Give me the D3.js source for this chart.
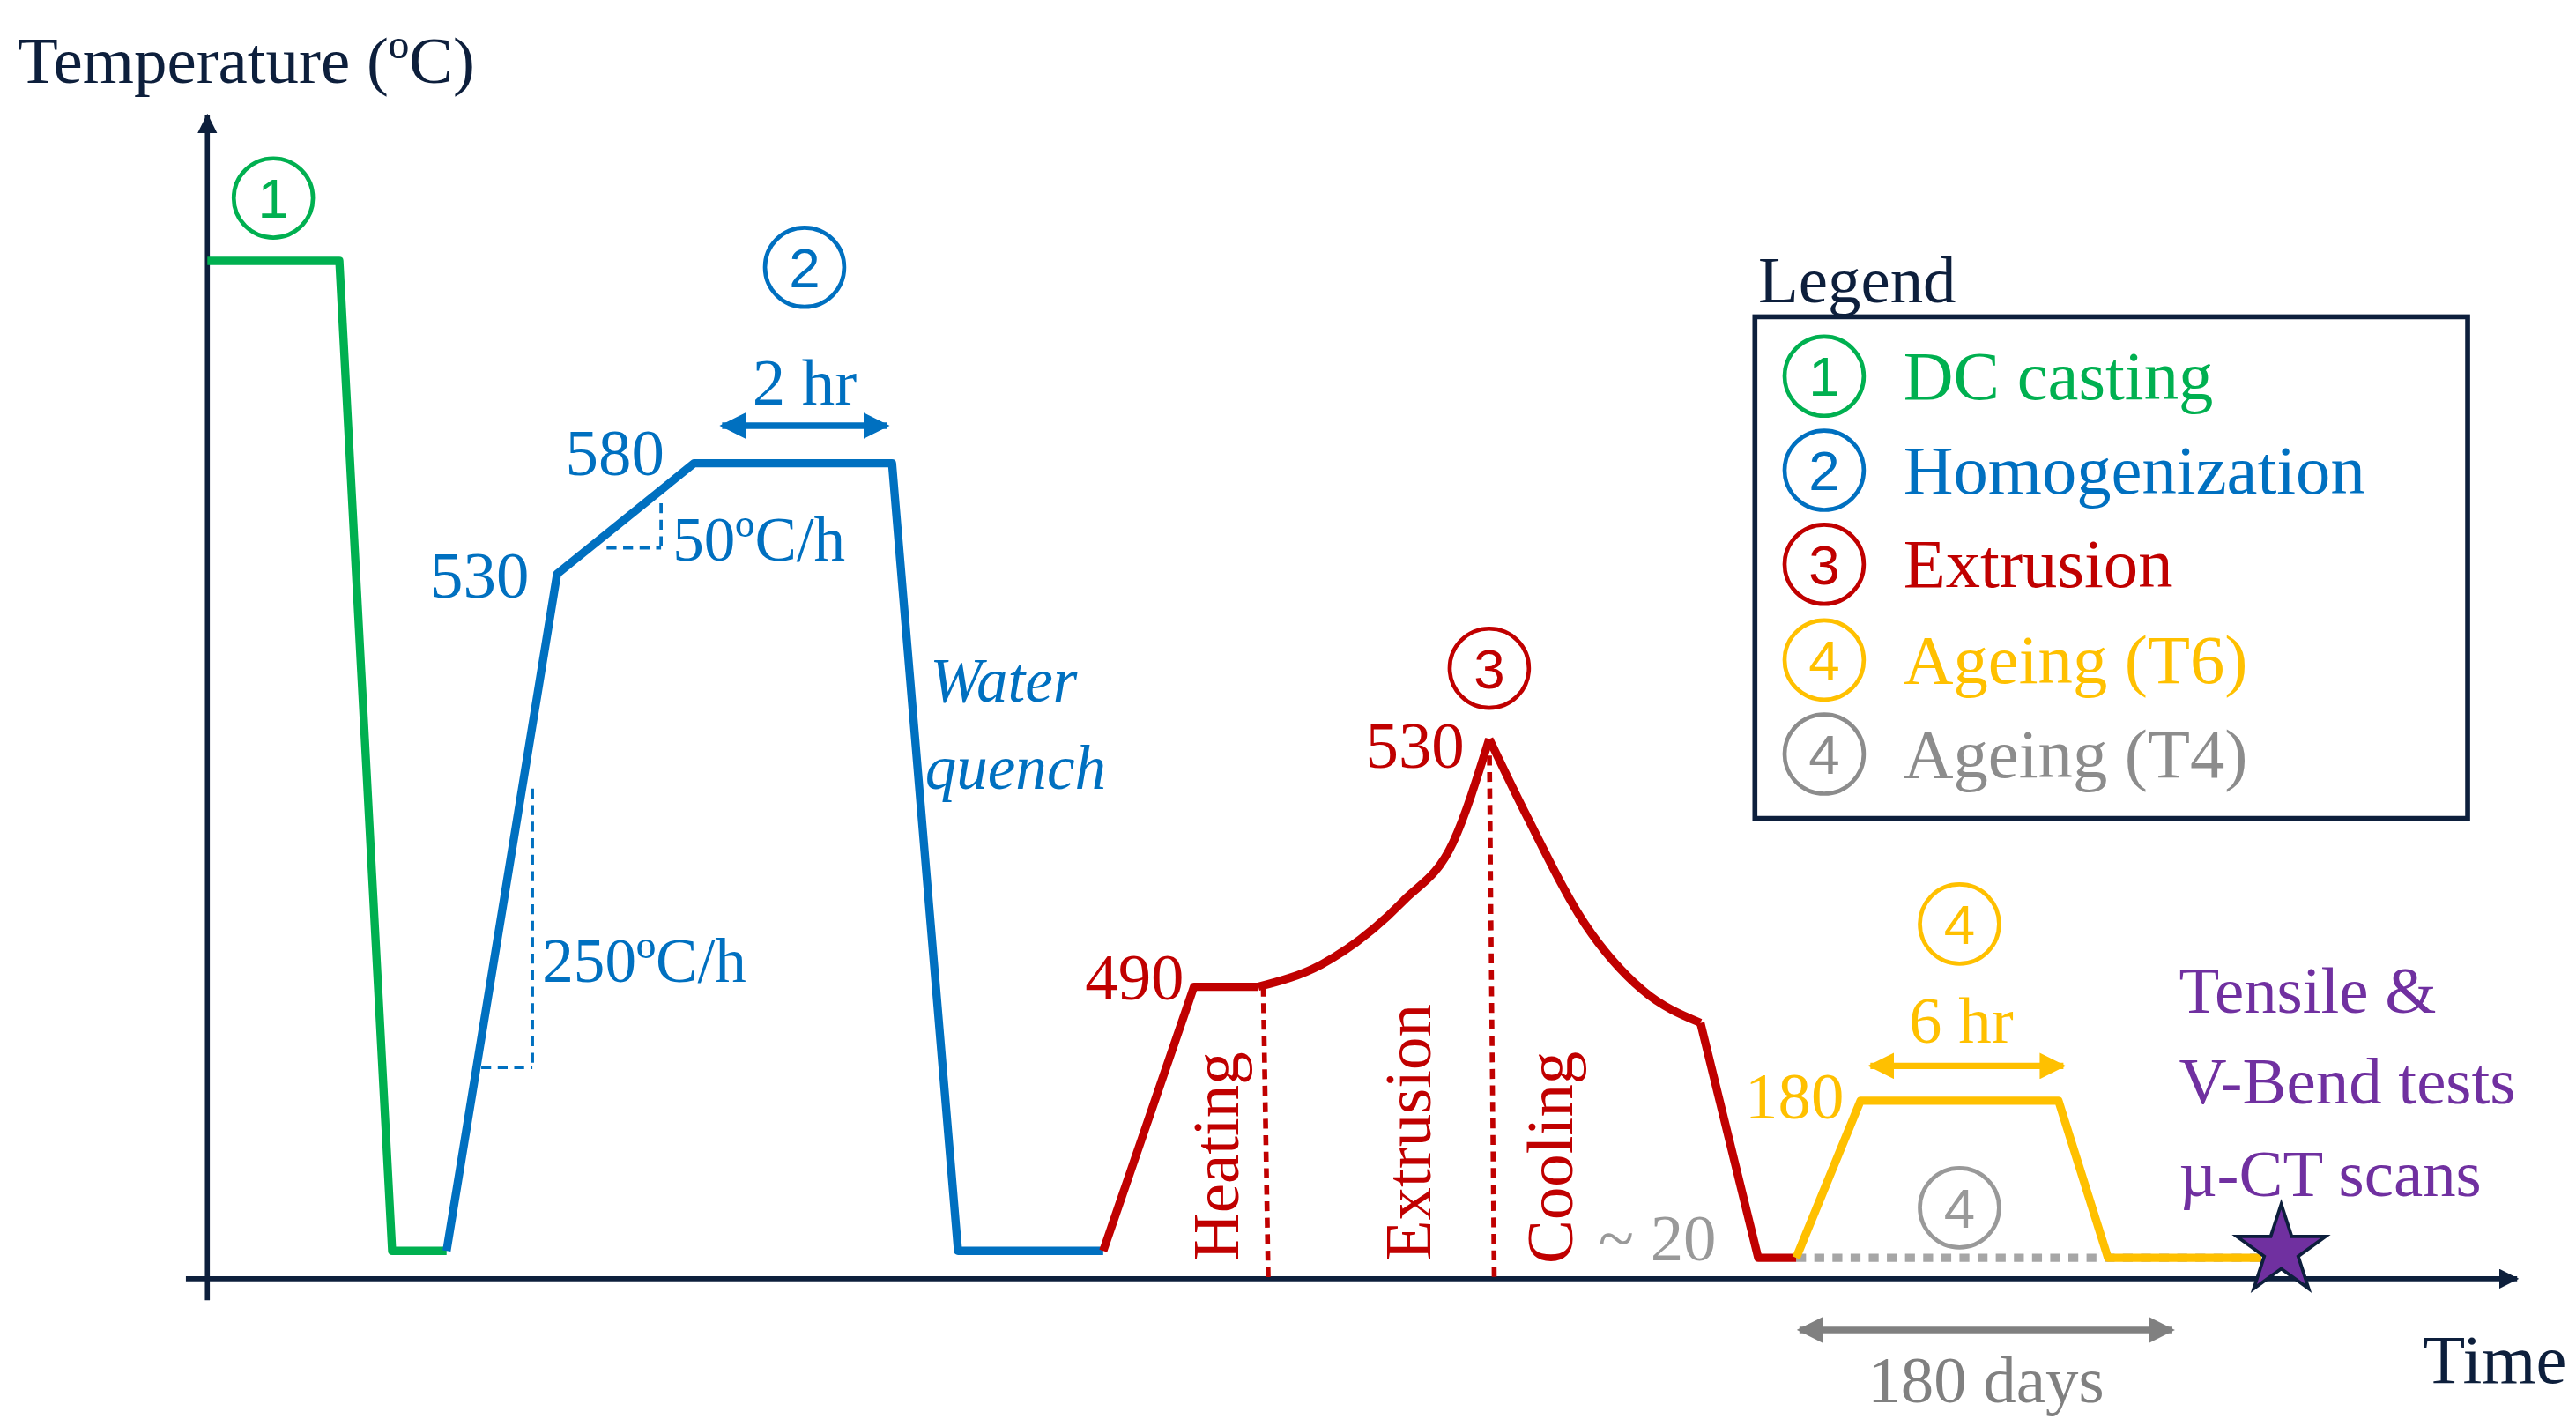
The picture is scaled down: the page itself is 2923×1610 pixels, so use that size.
<!DOCTYPE html>
<head>
<meta charset="UTF-8" />
<script src="https://d3js.org/d3.v7.min.js"></script>
<style>
  body { margin: 0; background: #fff; }
  text { font-family: "Liberation Serif", "DejaVu Serif", serif; }
</style>
</head>
<body>
<div id="chart"></div>
<script>
// schematic time (arbitrary units) and temperature level (schematic, not to scale)
const casting = [[0, 87.5], [80, 87.5], [112, 2.4], [145, 2.4]]
const homog = [[145, 2.4], [212, 60.6], [295, 70.1], [415, 70.1], [455, 2.4], [543, 2.4]]
const extrHeat = [[543, 2.4], [598, 25.1], [637, 25.1]]
const extrRise = [[637, 25.1], [675, 27], [725, 32.5], [755, 37.5], [777, 46.4]]
const extrFall = [[777, 46.4], [800, 39.7], [835, 30.5], [870, 24.8], [905, 22]]
const extrDrop = [[905, 22], [940, 1.8], [963, 1.8]]
const ageT6 = [[963, 1.8], [1002, 15.3], [1122, 15.3], [1152, 1.8], [1245, 1.8]]
const ageT4 = [[963, 1.8], [1245, 1.8]]
const legendItems = [
  { n: '1', label: 'DC casting', color: '#00b050' },
  { n: '2', label: 'Homogenization', color: '#0070c0' },
  { n: '3', label: 'Extrusion', color: '#c00000' },
  { n: '4', label: 'Ageing (T6)', color: '#ffc000' },
  { n: '4', label: 'Ageing (T4)', color: '#8c8c8c' }
]

const navy = '#0d1f3c', green = '#00b050', blue = '#0070c0', red = '#c00000',
  yellow = '#ffc000', gray = '#999999', purple = '#7030a0'

const svg = d3.select('#chart').append('svg')
  .attr('width', 2923).attr('height', 1610)
  .attr('viewBox', '0 0 1560 860')

const x = d3.scaleLinear().domain([0, 1400]).range([125, 1525])
const y = d3.scaleLinear().domain([0, 100]).range([775, 70])

const defs = svg.append('defs')
function marker(id, color) {
  defs.append('marker').attr('id', id).attr('viewBox', '0 0 10 10')
    .attr('refX', 9).attr('refY', 5).attr('markerWidth', 4).attr('markerHeight', 4)
    .attr('orient', 'auto-start-reverse')
    .append('path').attr('d', 'M0,0L10,5L0,10z').attr('fill', color)
}
marker('aNavy', navy); marker('aBlue', blue); marker('aYellow', yellow); marker('aGray', '#808080')

// axes
svg.append('line').attr('x1', x(0)).attr('x2', x(0)).attr('y1', 788).attr('y2', 70)
  .attr('stroke', navy).attr('stroke-width', 3).attr('marker-end', 'url(#aNavy)')
svg.append('line').attr('x1', 112).attr('x2', x(1400)).attr('y1', y(0)).attr('y2', y(0))
  .attr('stroke', navy).attr('stroke-width', 3).attr('marker-end', 'url(#aNavy)')

const line = d3.line().x(d => x(d[0])).y(d => y(d[1]))
const curve = d3.line().x(d => x(d[0])).y(d => y(d[1])).curve(d3.curveMonotoneX)

function draw(data, color, gen, dash) {
  svg.append('path').datum(data).attr('d', gen || line).attr('fill', 'none')
    .attr('stroke', color).attr('stroke-width', 5).attr('stroke-linejoin', 'round')
    .attr('stroke-dasharray', dash || null)
}
draw(ageT4, '#a6a6a6', line, '6,5')
draw(casting, green)
draw(homog, blue)
draw(extrHeat, red); draw(extrRise, red, curve); draw(extrFall, red, curve); draw(extrDrop, red)
draw(ageT6, yellow)

// dashed helpers
function dline(x1, y1, x2, y2, color, w) {
  svg.append('line').attr('x1', x1).attr('y1', y1).attr('x2', x2).attr('y2', y2)
    .attr('stroke', color).attr('stroke-width', w || 2).attr('stroke-dasharray', '6,4')
}
dline(322, 478, 322, 647, blue); dline(291, 647, 322, 647, blue)
dline(400, 305, 400, 332, blue); dline(367, 332, 400, 332, blue)
dline(x(640), y(25.1), 768, y(0), red, 3)
dline(x(777), y(46.4), x(780), y(0), red, 3)

// double arrows
function arrow(x1, x2, yy, color, id) {
  svg.append('line').attr('x1', x1).attr('x2', x2).attr('y1', yy).attr('y2', yy)
    .attr('stroke', color).attr('stroke-width', 4)
    .attr('marker-start', `url(#${id})`).attr('marker-end', `url(#${id})`)
}
arrow(437, 537, 258, blue, 'aBlue')
arrow(1133, 1250, 646, yellow, 'aYellow')
arrow(1090, 1316, 806, '#808080', 'aGray')

function txt(t, px, py, color, size, anchor, extra) {
  const e = svg.append('text').attr('x', px).attr('y', py).attr('fill', color)
    .attr('font-size', size).attr('text-anchor', anchor || 'start').text(t)
  if (extra) extra(e)
  return e
}
function circ(n, cx, cy, color, r) {
  svg.append('circle').attr('cx', cx).attr('cy', cy).attr('r', r || 24)
    .attr('fill', 'none').attr('stroke', color).attr('stroke-width', 2.5)
  svg.append('text').attr('x', cx).attr('y', cy + 12).attr('text-anchor', 'middle')
    .attr('fill', color).attr('font-size', 34).style('font-family', '"Liberation Sans", Arial, sans-serif').text(n)
}

txt('Temperature (ºC)', 10, 50, navy, 40)
txt('Time', 1555, 838, navy, 42, 'end')

circ('1', 165, 120, green)
circ('2', 487, 162, blue)
circ('3', 902, 405, red)
circ('4', 1187, 560, yellow)
circ('4', 1187, 732, gray)

txt('2 hr', 487, 245, blue, 40, 'middle')
txt('580', 372, 288, blue, 40, 'middle')
txt('530', 290, 362, blue, 40, 'middle')
txt('50ºC/h', 407, 340, blue, 38)
txt('250ºC/h', 328, 595, blue, 38)
txt('Water', 563, 425, blue, 38, 'start', e => e.attr('font-style', 'italic'))
txt('quench', 560, 478, blue, 38, 'start', e => e.attr('font-style', 'italic'))

txt('490', 717, 606, red, 40, 'end')
txt('530', 887, 465, red, 40, 'end')
function vtxt(t, px, py) {
  svg.append('text').attr('transform', `translate(${px},${py}) rotate(-90)`)
    .attr('fill', red).attr('font-size', 40).text(t)
}
vtxt('Heating', 750, 764)
vtxt('Extrusion', 866, 764)
vtxt('Cooling', 952, 766)
txt('~ 20', 968, 764, gray, 40)

txt('180', 1117, 678, yellow, 40, 'end')
txt('6 hr', 1188, 632, yellow, 40, 'middle')
txt('180 days', 1203, 850, '#808080', 40, 'middle')

txt('Tensile &', 1320, 614, purple, 40)
txt('V-Bend tests', 1320, 669, purple, 40)
txt('µ-CT scans', 1320, 725, purple, 40)

svg.append('path').attr('d', d3.symbol(d3.symbolStar, 900)())
  .attr('transform', `translate(${x(1257)},${y(2.4)}) rotate(0)`)
  .attr('fill', purple).attr('stroke', navy).attr('stroke-width', 2)

// legend
txt('Legend', 1065, 183, navy, 40)
svg.append('rect').attr('x', 1063).attr('y', 192).attr('width', 432).attr('height', 304)
  .attr('fill', 'none').attr('stroke', navy).attr('stroke-width', 3)
const rowY = [228, 285, 342, 400, 457]
legendItems.forEach((d, i) => {
  circ(d.n, 1105, rowY[i], d.color)
  txt(d.label, 1153, rowY[i] + 14, d.color, 42)
})
</script>
</body>
